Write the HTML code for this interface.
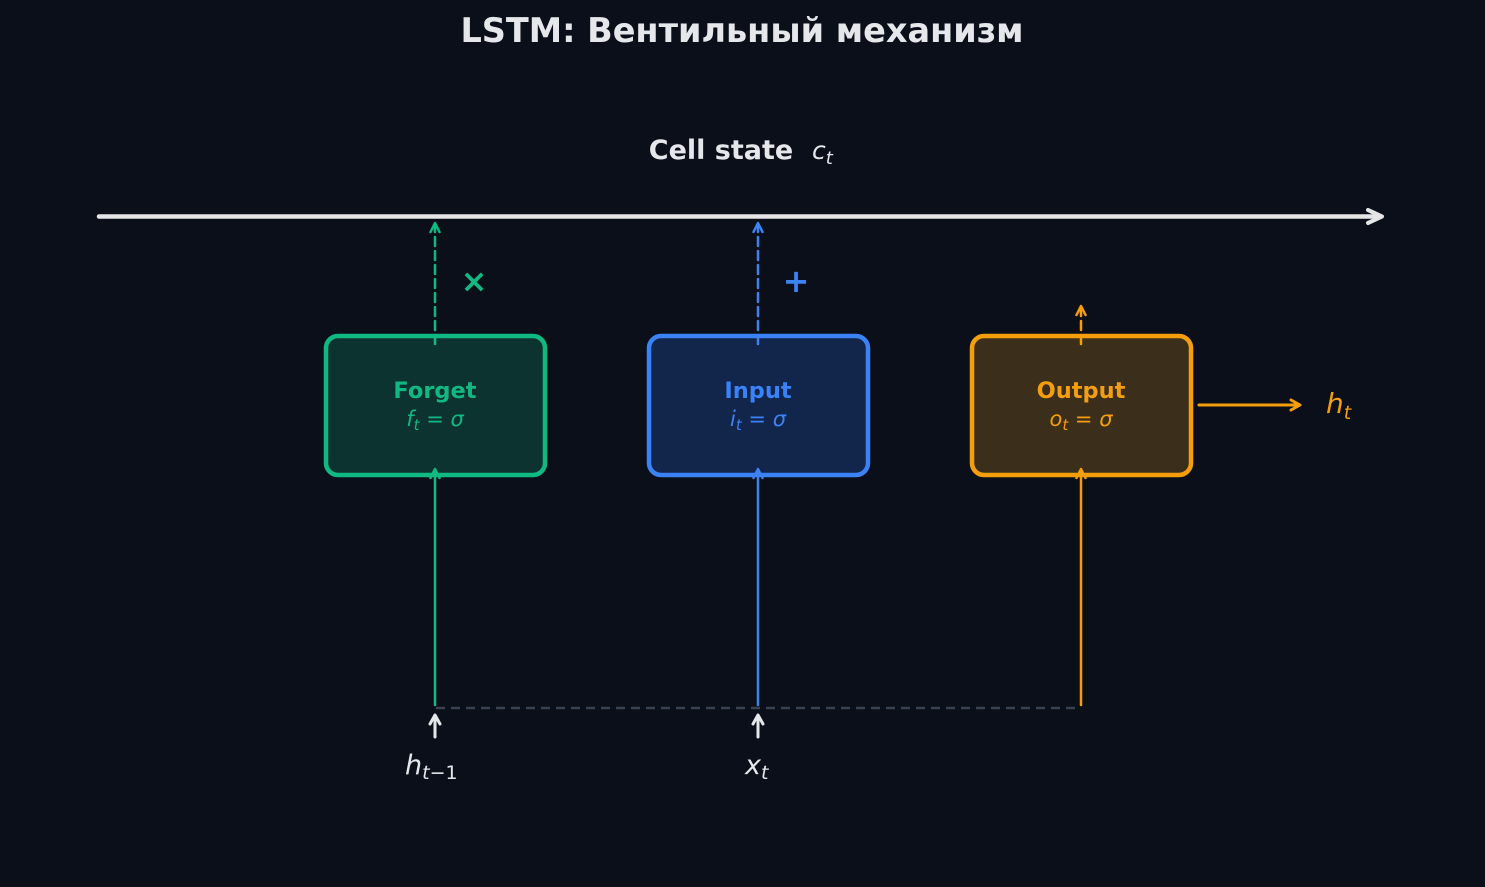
<!DOCTYPE html>
<html><head><meta charset="utf-8"><style>
html,body{margin:0;padding:0;background:#0b0f19;width:1485px;height:887px;overflow:hidden}
text{font-family:"DejaVu Sans","Liberation Sans",sans-serif}
</style></head><body>
<svg width="1485" height="887" viewBox="0 0 1485 887" xmlns="http://www.w3.org/2000/svg">
<rect width="1485" height="887" fill="#0b0f19"/>
<text x="742" y="42" text-anchor="middle" font-size="33.5" font-weight="bold" fill="#e5e7eb">LSTM: Вентильный механизм</text>
<text x="721" y="159" text-anchor="middle" font-size="27" font-weight="bold" fill="#e5e7eb">Cell state</text>
<text x="812" y="159" font-size="25" font-style="italic" fill="#e5e7eb">c<tspan font-size="18" dy="5">t</tspan></text>
<line x1="99" y1="216.5" x2="1378" y2="216.5" stroke="#e5e5e5" stroke-width="4.5" stroke-linecap="round"/>
<path d="M1368 210 L1382 216.5 L1368 223" fill="none" stroke="#e5e5e5" stroke-width="4" stroke-linecap="round" stroke-linejoin="round"/>

<rect x="326" y="336" width="219" height="139" rx="12" fill="#0d3331" stroke="#10b981" stroke-width="4.5"/>
<rect x="649" y="336" width="219" height="139" rx="12" fill="#12254a" stroke="#3b82f6" stroke-width="4.5"/>
<rect x="972" y="336" width="219" height="139" rx="12" fill="#3b2e1a" stroke="#f59e0b" stroke-width="4.5"/>

<g fill="none" stroke-linecap="round" stroke-linejoin="round">
<line x1="435" y1="344" x2="435" y2="226" stroke="#10b981" stroke-width="2.5" stroke-dasharray="9,5"/>
<path d="M430.5 232 L435 223 L439.5 232" stroke="#10b981" stroke-width="2.5"/>
<line x1="758" y1="344" x2="758" y2="226" stroke="#3b82f6" stroke-width="2.5" stroke-dasharray="9,5"/>
<path d="M753.5 232 L758 223 L762.5 232" stroke="#3b82f6" stroke-width="2.5"/>
<line x1="1081" y1="344" x2="1081" y2="309" stroke="#f59e0b" stroke-width="2.5" stroke-dasharray="9,5"/>
<path d="M1076.5 315 L1081 306 L1085.5 315" stroke="#f59e0b" stroke-width="2.5"/>
</g>
<text x="474" y="292" text-anchor="middle" font-size="32" font-weight="bold" fill="#10b981">×</text>
<text x="796" y="292" text-anchor="middle" font-size="32" font-weight="bold" fill="#3b82f6">+</text>

<text x="435" y="398" text-anchor="middle" font-size="22.5" font-weight="bold" fill="#10b981">Forget</text>
<text x="435" y="426" text-anchor="middle" font-size="21" font-style="italic" fill="#10b981">f<tspan font-size="15" dy="4">t</tspan><tspan dy="-4" font-style="normal"> = </tspan>σ</text>
<text x="758" y="398" text-anchor="middle" font-size="22.5" font-weight="bold" fill="#3b82f6">Input</text>
<text x="758" y="426" text-anchor="middle" font-size="21" font-style="italic" fill="#3b82f6">i<tspan font-size="15" dy="4">t</tspan><tspan dy="-4" font-style="normal"> = </tspan>σ</text>
<text x="1081" y="398" text-anchor="middle" font-size="22.5" font-weight="bold" fill="#f59e0b">Output</text>
<text x="1081" y="426" text-anchor="middle" font-size="21" font-style="italic" fill="#f59e0b">o<tspan font-size="15" dy="4">t</tspan><tspan dy="-4" font-style="normal"> = </tspan>σ</text>

<g fill="none" stroke-linecap="round" stroke-linejoin="round">
<line x1="435" y1="705" x2="435" y2="470" stroke="#10b981" stroke-width="2.5"/>
<path d="M430.5 478 L435 469 L439.5 478" stroke="#10b981" stroke-width="2.5"/>
<line x1="758" y1="705" x2="758" y2="470" stroke="#3b82f6" stroke-width="2.5"/>
<path d="M753.5 478 L758 469 L762.5 478" stroke="#3b82f6" stroke-width="2.5"/>
<line x1="1081" y1="705" x2="1081" y2="470" stroke="#f59e0b" stroke-width="2.5"/>
<path d="M1076.5 478 L1081 469 L1085.5 478" stroke="#f59e0b" stroke-width="2.5"/>
<line x1="1199" y1="405" x2="1298" y2="405" stroke="#f59e0b" stroke-width="3"/>
<path d="M1291 400 L1300 405 L1291 410" stroke="#f59e0b" stroke-width="3"/>
<line x1="436" y1="708" x2="1081" y2="708" stroke="#374151" stroke-width="2.5" stroke-dasharray="9,6" stroke-linecap="butt"/>
<line x1="435" y1="737" x2="435" y2="717" stroke="#e5e7eb" stroke-width="3"/>
<path d="M430 724 L435 715 L440 724" stroke="#e5e7eb" stroke-width="3"/>
<line x1="758" y1="737" x2="758" y2="717" stroke="#e5e7eb" stroke-width="3"/>
<path d="M753 724 L758 715 L763 724" stroke="#e5e7eb" stroke-width="3"/>
</g>
<text x="1326" y="413" font-size="28" font-style="italic" fill="#f59e0b">h<tspan font-size="19" dy="6">t</tspan></text>
<text x="405" y="774" font-size="27" font-style="italic" fill="#e5e7eb">h<tspan font-size="19" dy="5">t</tspan><tspan font-size="19" font-style="normal">−1</tspan></text>
<text x="745" y="774" font-size="27" font-style="italic" fill="#e5e7eb">x<tspan font-size="19" dy="5">t</tspan></text>
</svg>
</body></html>
